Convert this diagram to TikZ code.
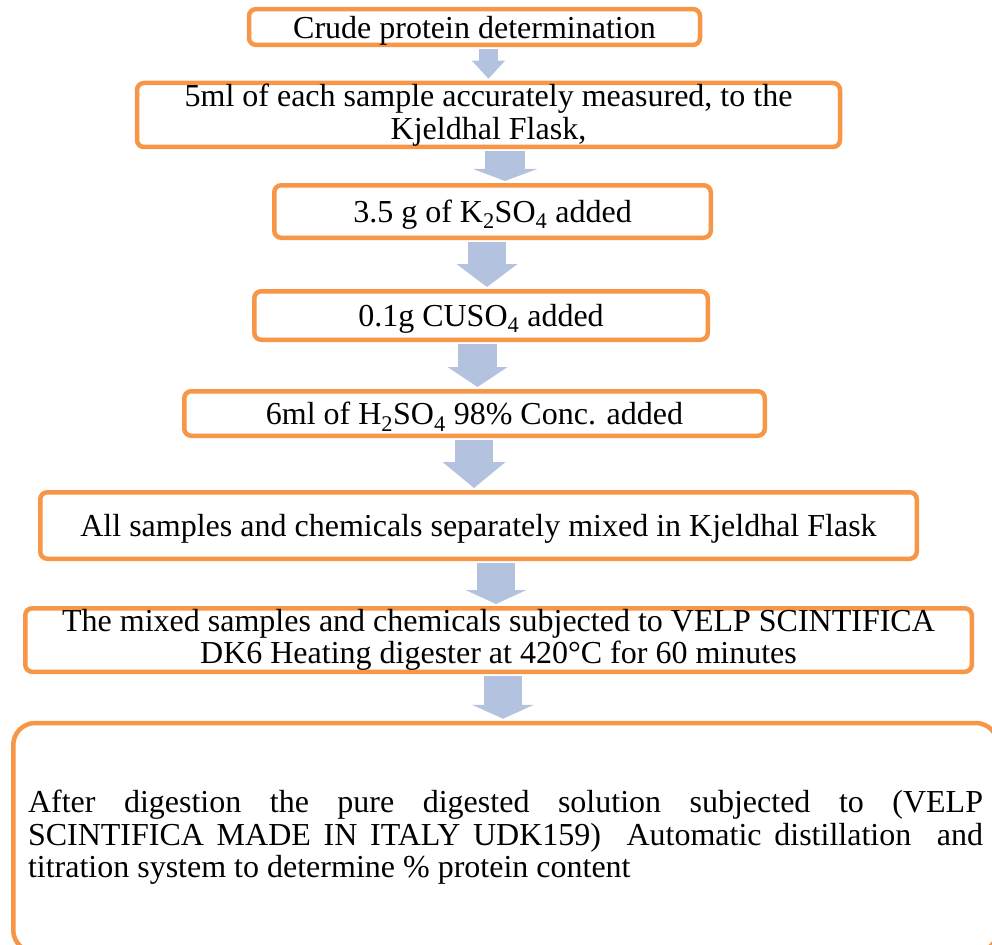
\documentclass[tikz,border=0pt]{standalone}
\usepackage{fontspec}
\setmainfont{Liberation Serif}
\usetikzlibrary{arrows.meta}
\definecolor{boxorange}{HTML}{F79646}
\definecolor{arrowblue}{HTML}{B3C3DF}

\begin{document}
\begin{tikzpicture}[x=1pt,y=-1pt, every node/.style={font=\fontsize{32}{32.5}\selectfont,align=center},
 stepbox/.style={draw=boxorange,line width=4.5pt,rounded corners=7pt,fill=white,inner sep=0pt},
 lowtext/.style={stepbox,execute at begin node={\rule{0pt}{29pt}}},
 flow/.style n args={3}{draw=arrowblue,line width=#1,-{Triangle[width=#2,length=#3,line width=0pt]},shorten <=2pt,shorten >=2pt}]
\clip (0,0) rectangle (992,944);
\node[lowtext,minimum width=451pt,minimum height=34pt] (crude) at (474.5,27) {Crude protein determination};
\node[lowtext,minimum width=703pt,minimum height=64pt] (sample) at (488.5,115) {5ml of each sample accurately measured, to the\\Kjeldhal Flask,};
\node[lowtext,minimum width=436.5pt,minimum height=52.5pt] (ksulf) at (492.5,211.5) {3.5 g of K\textsubscript{2}SO\textsubscript{4} added};
\node[lowtext,minimum width=453.5pt,minimum height=48.5pt] (cusulf) at (481,315.5) {0.1g CUSO\textsubscript{4} added};
\node[lowtext,minimum width=580.5pt,minimum height=44.5pt] (acid) at (474.5,413.5) {6ml of H\textsubscript{2}SO\textsubscript{4} 98\% Conc. added};
\node[lowtext,minimum width=876.5pt,minimum height=66.5pt] (mixed) at (478.5,525.5) {All samples and chemicals separately mixed in Kjeldhal Flask};
\node[lowtext,minimum width=946.5pt,minimum height=63.5pt] (digest) at (498.5,640) {The mixed samples and chemicals subjected to VELP SCINTIFICA\\DK6 Heating digester at 420°C for 60 minutes};
\node[stepbox,rounded corners=22pt,minimum width=984.5pt,minimum height=229pt,text width=955pt,align=justify] (distil) at (505.5,837.5)
 {After digestion the pure digested solution subjected to (VELP\linebreak SCINTIFICA MADE IN ITALY UDK159)~ Automatic distillation~ and\linebreak titration system to determine \% protein content};
% block arrows between the steps
\draw[flow={19pt}{33pt}{18pt}] ([xshift=14pt]crude.south) -- ([xshift=0pt]sample.north);
\draw[flow={40pt}{64pt}{12pt}] ([xshift=16.5pt]sample.south) -- ([xshift=12.5pt]ksulf.north);
\draw[flow={38pt}{61pt}{23pt}] ([xshift=-5.5pt]ksulf.south) -- ([xshift=6pt]cusulf.north);
\draw[flow={39pt}{60pt}{20pt}] ([xshift=-3.5pt]cusulf.south) -- ([xshift=3pt]acid.north);
\draw[flow={38pt}{63pt}{26pt}] ([xshift=-0.5pt]acid.south) -- ([xshift=-4.5pt]mixed.north);
\draw[flow={38pt}{61pt}{14pt}] ([xshift=17.5pt]mixed.south) -- ([xshift=-2.5pt]digest.north);
\draw[flow={38pt}{62pt}{14pt}] ([xshift=4.5pt]digest.south) -- ([xshift=-2.5pt]distil.north);
\end{tikzpicture}
\end{document}
